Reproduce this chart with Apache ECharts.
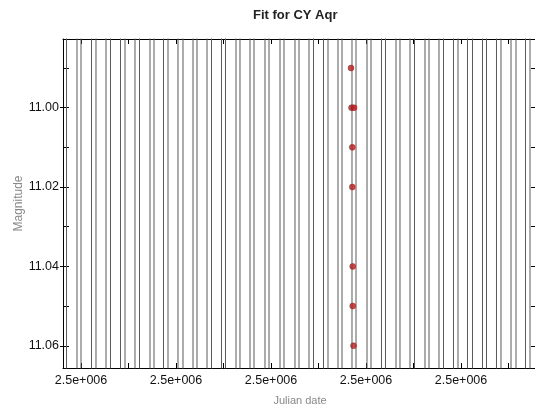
<!DOCTYPE html>
<html>
<head>
<meta charset="utf-8">
<script src="https://cdn.jsdelivr.net/npm/echarts@6/dist/echarts.min.js"></script>
<style>
  html, body { margin: 0; padding: 0; background: #fff; }
  #chart { width: 535px; height: 407px; }
</style>
</head>
<body>
<div id="chart"></div>
<script>
// Julian-date ticks (labelled) and the half-step minor ticks
const xTicks = [2452500, 2453000, 2453500, 2454000, 2454500];
const xMinorTicks = [2452250, 2452500, 2452750, 2453000, 2453250, 2453500, 2453750,
                     2454000, 2454250, 2454500, 2454750];
const xRange = [2452405.26, 2454900];

// Magnitude ticks (axis is inverted: brighter at the top)
const yTicks = [11.00, 11.02, 11.04, 11.06];
const yMinorTicks = [10.99, 11.00, 11.01, 11.02, 11.03, 11.04, 11.05, 11.06];
const yRange = [10.9827, 11.0656];

// Observations of CY Aqr
const obsDate = [2453921.1, 2453923.7, 2453936.8, 2453927.9, 2453927.9, 2453930.0, 2453930.0, 2453934.2];
const obsMag  = [10.99,     11.00,     11.00,     11.01,     11.02,     11.04,     11.05,     11.06];

// Dates where the fitted light curve sweeps through the plotted magnitude window
const fitCrossings = [
  2452423.7, 2452478.9, 2452500.0, 2452555.3, 2452578.9, 2452631.6, 2452655.3,
  2452707.9, 2452731.6, 2452784.2, 2452807.9, 2452863.2, 2452884.2, 2452934.2,
  2452957.9, 2453010.5, 2453036.8, 2453089.5, 2453110.5, 2453163.2, 2453186.8,
  2453239.5, 2453260.5, 2453315.8, 2453336.8, 2453389.5, 2453410.5, 2453468.4,
  2453489.5, 2453547.4, 2453568.4, 2453626.3, 2453647.4, 2453700.0, 2453723.7,
  2453776.3, 2453800.0, 2453852.6, 2453873.7, 2453926.3, 2453947.4, 2454005.3,
  2454026.3, 2454081.6, 2454102.6, 2454157.9, 2454178.9, 2454231.6, 2454255.3,
  2454310.5, 2454331.6, 2454384.2, 2454407.9, 2454460.5, 2454484.2, 2454534.2,
  2454560.5, 2454613.2, 2454634.2, 2454686.8, 2454710.5, 2454763.2, 2454789.5,
  2454839.5, 2454863.2
];
// the fitted curve's extremes lie well outside the window
const fitBright = 10.90;
const fitFaint = 11.15;

const fitData = [];
fitCrossings.forEach((d, i) => {
  if (i % 2 === 0) { fitData.push([d, fitBright], [d, fitFaint]); }
  else { fitData.push([d, fitFaint], [d, fitBright]); }
});
const obsData = obsDate.map((d, i) => [d, obsMag[i]]);

const sciLabel = v => {
  const s = Number(v).toExponential(1);
  const m = s.match(/^(.*)e([+-])(\d+)$/);
  return m[1] + 'e' + m[2] + m[3].padStart(3, '0');
};

const axisLineStyle = { color: '#000', width: 1 };
const font = 'Liberation Sans, Arial, sans-serif';

const chart = echarts.init(document.getElementById('chart'), null, { renderer: 'canvas' });
chart.setOption({
  backgroundColor: '#fff',
  animation: false,
  title: {
    text: 'Fit for CY Aqr',
    left: 253, top: 9, padding: 0,
    textStyle: { fontFamily: font, fontSize: 13, fontWeight: 'bold', color: '#222' }
  },
  grid: { left: 63, top: 39, right: -2, bottom: 39, containLabel: false, outerBoundsMode: 'none' },
  xAxis: [
    {
      type: 'value', position: 'bottom', min: xRange[0], max: xRange[1],
      name: 'Julian date', nameLocation: 'middle', nameGap: 27, nameMoveOverlap: false,
      nameTextStyle: { fontFamily: font, fontSize: 11, color: '#888' },
      axisLine: { show: true, onZero: false, lineStyle: axisLineStyle },
      axisTick: { show: true, inside: true, length: 5, customValues: xMinorTicks, lineStyle: axisLineStyle },
      axisLabel: { show: true, margin: 6, customValues: xTicks, formatter: sciLabel,
                   fontFamily: font, fontSize: 12.5, color: '#111' },
      splitLine: { show: false }
    },
    {
      type: 'value', position: 'top', min: xRange[0], max: xRange[1],
      axisLine: { show: true, onZero: false, lineStyle: axisLineStyle },
      axisTick: { show: true, inside: true, length: 5, customValues: xMinorTicks, lineStyle: axisLineStyle },
      axisLabel: { show: false },
      splitLine: { show: false }
    }
  ],
  yAxis: [
    {
      type: 'value', position: 'left', inverse: true, min: yRange[0], max: yRange[1],
      name: 'Magnitude', nameLocation: 'middle', nameGap: 38, nameMoveOverlap: false,
      nameTextStyle: { fontFamily: font, fontSize: 12, color: '#888' },
      axisLine: { show: true, onZero: false, lineStyle: axisLineStyle },
      axisTick: { show: true, inside: false, length: 3, customValues: yTicks, lineStyle: axisLineStyle },
      axisLabel: { show: true, margin: 4, customValues: yTicks, formatter: v => Number(v).toFixed(2),
                   fontFamily: font, fontSize: 12.5, color: '#111' },
      splitLine: { show: false }
    },
    {
      type: 'value', position: 'left', inverse: true, min: yRange[0], max: yRange[1],
      axisLine: { show: false, onZero: false },
      axisTick: { show: true, inside: true, length: 6, customValues: yMinorTicks, lineStyle: axisLineStyle },
      axisLabel: { show: false },
      splitLine: { show: false }
    },
    {
      type: 'value', position: 'right', inverse: true, min: yRange[0], max: yRange[1],
      axisLine: { show: true, onZero: false, lineStyle: axisLineStyle },
      axisTick: { show: true, inside: true, length: 6, customValues: yMinorTicks, lineStyle: axisLineStyle },
      axisLabel: { show: false },
      splitLine: { show: false }
    }
  ],
  series: [
    {
      name: 'fit', type: 'line', xAxisIndex: 0, yAxisIndex: 0,
      data: fitData, showSymbol: false, symbol: 'none', clip: true,
      lineStyle: { color: '#5a5a5a', width: 1 }, z: 2
    },
    {
      name: 'observations', type: 'scatter', xAxisIndex: 0, yAxisIndex: 0,
      data: obsData, symbol: 'circle', symbolSize: 6,
      itemStyle: { color: '#b41e1e', borderColor: '#8a1414', borderWidth: 0.5 }, z: 5
    }
  ]
});
</script>
</body>
</html>
